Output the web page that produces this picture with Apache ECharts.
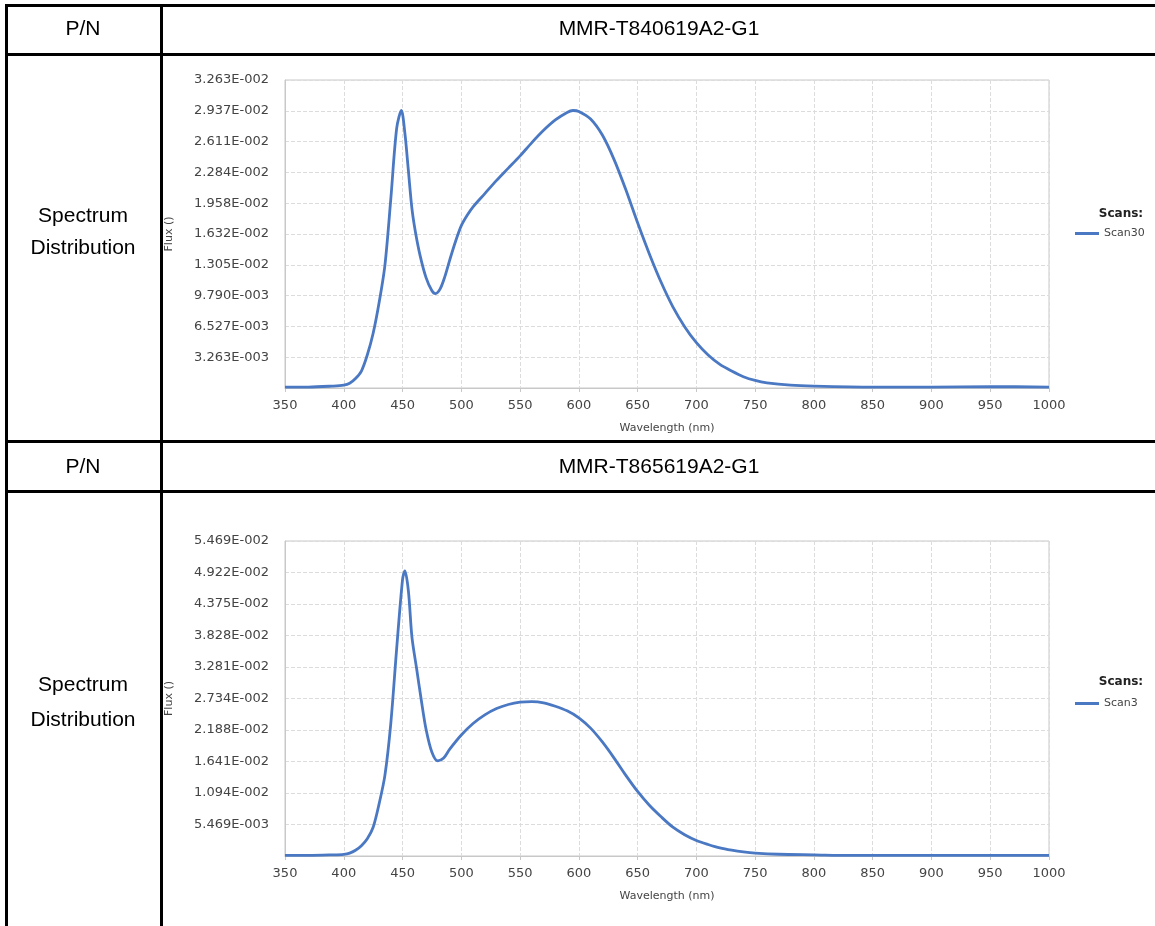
<!DOCTYPE html>
<html><head><meta charset="utf-8">
<script src="https://cdn.jsdelivr.net/npm/echarts@6/dist/echarts.min.js"></script>
<style>html,body{margin:0;padding:0;background:#fff;}#c{width:1155px;height:926px;}</style>
</head><body><div id="c"></div>
<script>
// ---- data ----
const partNumbers = ['MMR-T840619A2-G1', 'MMR-T865619A2-G1'];
const seriesNames = ['Scan30', 'Scan3'];
const xTicks = [350,400,450,500,550,600,650,700,750,800,850,900,950,1000];
const yTicks1 = ['3.263E-003','6.527E-003','9.790E-003','1.305E-002','1.632E-002','1.958E-002','2.284E-002','2.611E-002','2.937E-002','3.263E-002'];
const yTicks2 = ['5.469E-003','1.094E-002','1.641E-002','2.188E-002','2.734E-002','3.281E-002','3.828E-002','4.375E-002','4.922E-002','5.469E-002'];
const yMax1 = 0.032634, yMax2 = 0.054688;
const wl1 = [350,370,390,400,405,410,415,420,425,430,435,440,445,449,452,455,458,461,465,470,475,478,482,486,490,495,500,505,510,520,530,540,550,560,570,580,590,595,600,610,620,630,640,650,660,670,680,690,700,710,720,730,740,750,760,780,800,850,900,950,1000];
const flux1 = [0.0001,0.0001,0.0002,0.0003,0.0005,0.001,0.0018,0.0035,0.0058,0.009,0.013,0.02,0.0275,0.0294,0.027,0.023,0.019,0.0165,0.014,0.0117,0.0103,0.0100,0.0105,0.0118,0.0135,0.0155,0.0172,0.0183,0.0192,0.0206,0.022,0.0233,0.0246,0.026,0.0273,0.0284,0.0292,0.0294,0.0293,0.0285,0.0268,0.0242,0.021,0.0175,0.0142,0.0112,0.0086,0.0065,0.0048,0.0035,0.0025,0.0018,0.0012,0.0008,0.00055,0.0003,0.0002,0.0001,0.0001,0.00015,0.0001];
const wl2 = [350,370,390,400,405,410,415,420,425,430,435,440,445,450,452,455,458,462,466,470,475,480,485,490,500,510,520,530,540,550,560,570,580,590,600,610,620,630,640,650,660,670,680,690,700,710,720,730,740,750,770,800,830,900,1000];
const flux2 = [0.0001,0.0001,0.0002,0.0003,0.0005,0.001,0.0018,0.003,0.005,0.009,0.014,0.023,0.036,0.048,0.0495,0.046,0.038,0.0325,0.027,0.022,0.018,0.0165,0.017,0.0185,0.021,0.023,0.0245,0.0256,0.0263,0.0267,0.0268,0.0266,0.026,0.0252,0.024,0.0222,0.0198,0.017,0.014,0.0112,0.0088,0.0068,0.005,0.0037,0.0027,0.002,0.0014,0.001,0.0007,0.0005,0.0003,0.0002,0.0001,0.0001,0.0001];

const pair = (xs, ys) => xs.map((x, i) => [x, ys[i]]);
const chart = echarts.init(document.getElementById('c'));
const tickFont = {fontFamily:'DejaVu Sans', fontSize:13, color:'#444'};
const gridLine = {show:true, lineStyle:{color:'#dcdcdc', type:'dashed', width:1}};
function xAxisFor(gi){
  return {type:'value', gridIndex:gi, min:xTicks[0], max:xTicks[xTicks.length-1], interval:50,
    name:'Wavelength (nm)', nameLocation:'middle', nameGap:35,
    nameTextStyle:{fontFamily:'DejaVu Sans', fontSize:11, color:'#444'},
    axisLine:{lineStyle:{color:'#c8c8c8'}}, axisTick:{show:true, length:4, lineStyle:{color:'#c8c8c8'}},
    axisLabel:Object.assign({margin:11, formatter:(v)=>{const i=xTicks.indexOf(Math.round(v)); return i<0?'':String(xTicks[i]);}}, tickFont), splitLine:gridLine};
}
function yAxisFor(gi, max, labels){
  return {type:'value', gridIndex:gi, min:0, max:max, interval:max/10,
    name:'Flux ()', nameLocation:'middle', nameGap:110, nameRotate:90,
    nameTextStyle:{fontFamily:'DejaVu Sans', fontSize:11, color:'#444'},
    axisLine:{show:true, lineStyle:{color:'#c8c8c8'}}, axisTick:{show:false},
    axisLabel:Object.assign({margin:16, formatter:(v)=>{const k=Math.round(v/(max/10)); return k===0?'':labels[k-1];}}, tickFont),
    splitLine:gridLine};
}
const K = 3;
const rects = [
  [5,4,1150,K],[5,4,K,922],[160,4,K,922],[5,53,1150,K],[5,440,1150,K],[5,490,1150,K]
].map(r=>({type:'rect', shape:{x:r[0],y:r[1],width:r[2],height:r[3]}, style:{fill:'#000'}, silent:true}));
const txt = (t,x,y,size,weight,fam,col)=>({type:'text', x:x, y:y, style:{text:t, x:0, y:0, align:'center', verticalAlign:'middle', font:(weight||'normal')+' '+size+'px '+(fam||'"Liberation Sans", Arial'), fill:col||'#000'}, silent:true});
const texts = [
  txt('P/N',83,29,21), txt(partNumbers[0],659,29,21),
  txt('Spectrum',83,216,21), txt('Distribution',83,248,21),
  txt('P/N',83,467,21), txt(partNumbers[1],659,467,21),
  txt('Spectrum',83,685,21), txt('Distribution',83,720,21),
  txt('Scans:',1121,214,12,'bold','"DejaVu Sans"','#222'),
  txt('Scans:',1121,682,12,'bold','"DejaVu Sans"','#222')
];
chart.setOption({
  animation:false,
  grid:[{left:285, top:80, right:106, height:308, show:true, borderColor:'#c8c8c8', borderWidth:1},
        {left:285, top:541, right:106, height:315, show:true, borderColor:'#c8c8c8', borderWidth:1}],
  xAxis:[xAxisFor(0), xAxisFor(1)],
  yAxis:[yAxisFor(0,yMax1,yTicks1), yAxisFor(1,yMax2,yTicks2)],
  legend:[
    {data:[seriesNames[0]], left:1070, top:223, icon:'rect', itemWidth:24, itemHeight:3, itemGap:4, textStyle:{fontFamily:'DejaVu Sans', fontSize:11, color:'#444'}},
    {data:[seriesNames[1]], left:1070, top:693, icon:'rect', itemWidth:24, itemHeight:3, itemGap:4, textStyle:{fontFamily:'DejaVu Sans', fontSize:11, color:'#444'}}
  ],
  series:[
    {name:seriesNames[0], type:'line', xAxisIndex:0, yAxisIndex:0, data:pair(wl1,flux1), smooth:0.3, showSymbol:false, lineStyle:{color:'#4a78c2', width:2.8}, itemStyle:{color:'#4a78c2'}},
    {name:seriesNames[1], type:'line', xAxisIndex:1, yAxisIndex:1, data:pair(wl2,flux2), smooth:0.3, showSymbol:false, lineStyle:{color:'#4a78c2', width:2.8}, itemStyle:{color:'#4a78c2'}}
  ],
  graphic: rects.concat(texts)
});
</script></body></html>
